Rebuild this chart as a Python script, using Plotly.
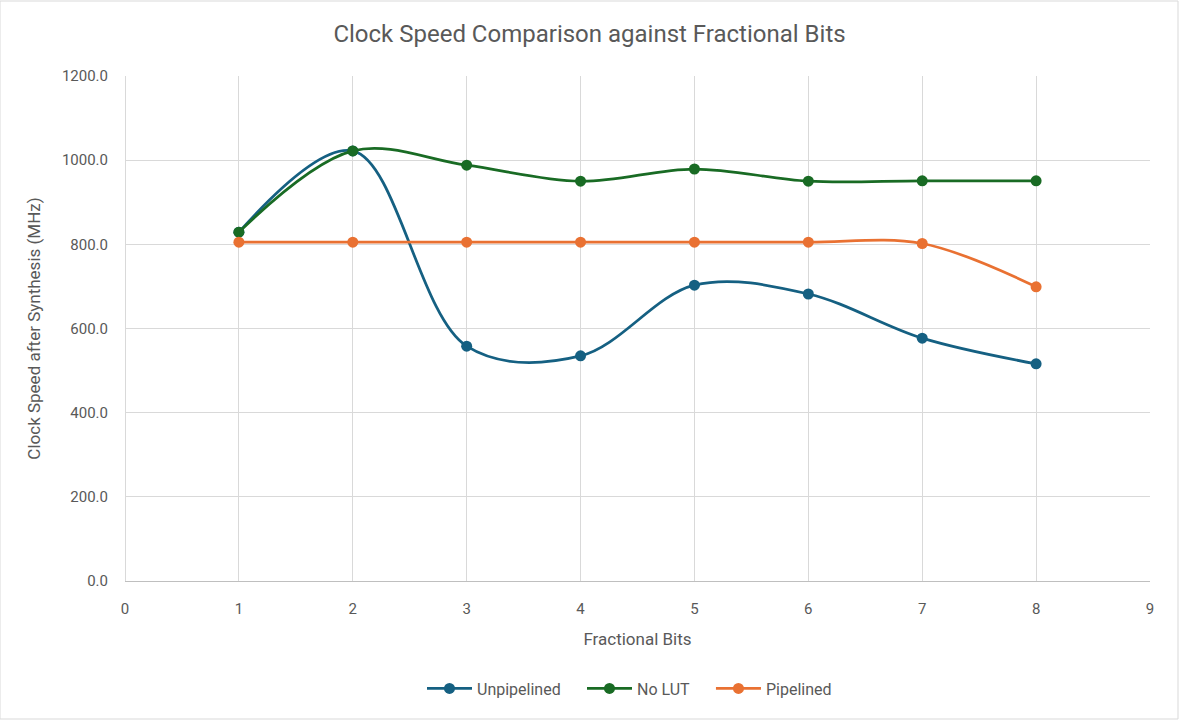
import plotly.graph_objects as go

fractional_bits = [1, 2, 3, 4, 5, 6, 7, 8]
unpipelined = [829, 1022, 558, 535, 703, 682, 577, 516]
no_lut = [829, 1022, 988, 950, 979, 950, 951, 951]
pipelined = [805, 805, 805, 805, 805, 805, 802, 699]

series = [
    ("Unpipelined", unpipelined, "#156082"),
    ("No LUT", no_lut, "#196B24"),
    ("Pipelined", pipelined, "#E97132"),
]

FONT = "Liberation Sans Narrow, Roboto, Arial"
fig = go.Figure()
for name, vals, col in series:
    fig.add_trace(go.Scatter(
        x=fractional_bits, y=vals, name=name + "\u2003", mode="lines+markers",
        line=dict(color=col, width=2.75, shape="spline", smoothing=1.0),
        marker=dict(color=col, size=11),
    ))

fig.update_layout(
    width=1179, height=720,
    paper_bgcolor="white", plot_bgcolor="white",
    margin=dict(l=125, r=29, t=76, b=139),
    title=dict(text="Clock Speed Comparison against Fractional Bits",
               x=0.5, xanchor="center", y=0.953, yanchor="middle",
               font=dict(family=FONT, size=24, color="#595959")),
    font=dict(family="Roboto, Arial", color="#595959", size=15),
    xaxis=dict(range=[0, 9], dtick=1, tick0=0, showgrid=True, gridcolor="#d9d9d9",
               gridwidth=1, zeroline=True, zerolinecolor="#d9d9d9", zerolinewidth=1,
               showline=True, linecolor="#bfbfbf",
               ticks="", ticklabelstandoff=14,
               title=dict(text="Fractional Bits", font=dict(size=17, color="#595959"), standoff=16),
               tickfont=dict(size=15, color="#595959")),
    yaxis=dict(range=[0, 1200], dtick=200, tickformat=".1f", showgrid=True,
               gridcolor="#d9d9d9", gridwidth=1, zeroline=False, showline=False,
               ticks="", ticklen=0, ticklabelstandoff=16,
               title=dict(text="Clock Speed after Synthesis (MHz)", font=dict(size=17, color="#595959"), standoff=16),
               tickfont=dict(size=15, color="#595959")),
    legend=dict(orientation="h", x=0.5, xanchor="center", y=-0.213, yanchor="middle",
                font=dict(size=16, color="#595959"), itemwidth=45),
    shapes=[dict(type="rect", xref="paper", yref="paper", x0=-125/1025, x1=1+28/1025,
                 y0=-138/505, y1=1+75/505, line=dict(color="#d9d9d9", width=1))],
)

fig.write_html("out.html")
